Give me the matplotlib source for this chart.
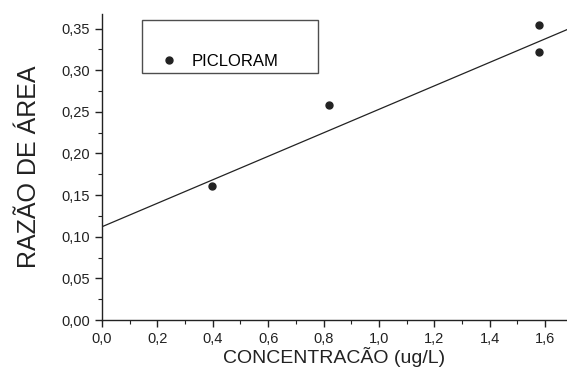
import matplotlib
matplotlib.use("Agg")
import matplotlib.pyplot as plt
import numpy as np
from matplotlib.ticker import MultipleLocator, FuncFormatter

# data
conc = [0.396, 0.818, 1.578, 1.578]
ratio = [0.1605, 0.2586, 0.354, 0.322]
fit_intercept = 0.112
fit_slope = 0.141
series_label = "PICLORAM"
xlabel = "CONCENTRACÃO (ug/L)"
ylabel = "RAZÃO DE ÁREA"

plt.rcParams['font.family'] = ['Liberation Sans', 'DejaVu Sans']

fig = plt.figure(figsize=(5.67, 3.67), dpi=100)
ax = fig.add_axes([102/567, 47/367, 1 - 102/567, (320-14)/367])

xmax = 1.679
ax.set_xlim(0, xmax)
ax.set_ylim(0, 0.3675)

fx = np.array([0.0, xmax])
ax.plot(fx, fit_intercept + fit_slope * fx, color='#222222', lw=0.9)
ax.plot(conc, ratio, 'o', color='#222222', ms=5, label=series_label, clip_on=False)

for s in ['top', 'right']:
    ax.spines[s].set_visible(False)
for s in ['left', 'bottom']:
    ax.spines[s].set_linewidth(1.0)
    ax.spines[s].set_color('#222222')

ax.xaxis.set_major_locator(MultipleLocator(0.2))
ax.xaxis.set_minor_locator(MultipleLocator(0.1))
ax.yaxis.set_major_locator(MultipleLocator(0.05))
ax.yaxis.set_minor_locator(MultipleLocator(0.025))
ax.xaxis.set_major_formatter(FuncFormatter(lambda v, p: f"{v:.1f}".replace('.', ',')))
ax.yaxis.set_major_formatter(FuncFormatter(lambda v, p: f"{v:.2f}".replace('.', ',')))
ax.tick_params(which='major', length=5, width=1, labelsize=10.5, colors='#222222')
ax.tick_params(which='minor', length=3, width=0.8, colors='#222222')

ax.set_xlabel(xlabel, fontsize=14, color='#222222', labelpad=1)
ax.set_ylabel(ylabel, fontsize=18, color='#222222', labelpad=15)

leg = ax.legend(loc='lower left',
                bbox_to_anchor=((142-102)/465, (320-73)/306, (318-142)/465, (73-21)/306),
                mode='expand',
                frameon=True, fancybox=False, edgecolor='#222222', fontsize=12,
                title=' ', title_fontsize=16, handletextpad=0.0, borderpad=0.25,
                handlelength=2.75, borderaxespad=0)
leg.get_frame().set_linewidth(1.0)

fig.savefig("out.png", dpi=100)
